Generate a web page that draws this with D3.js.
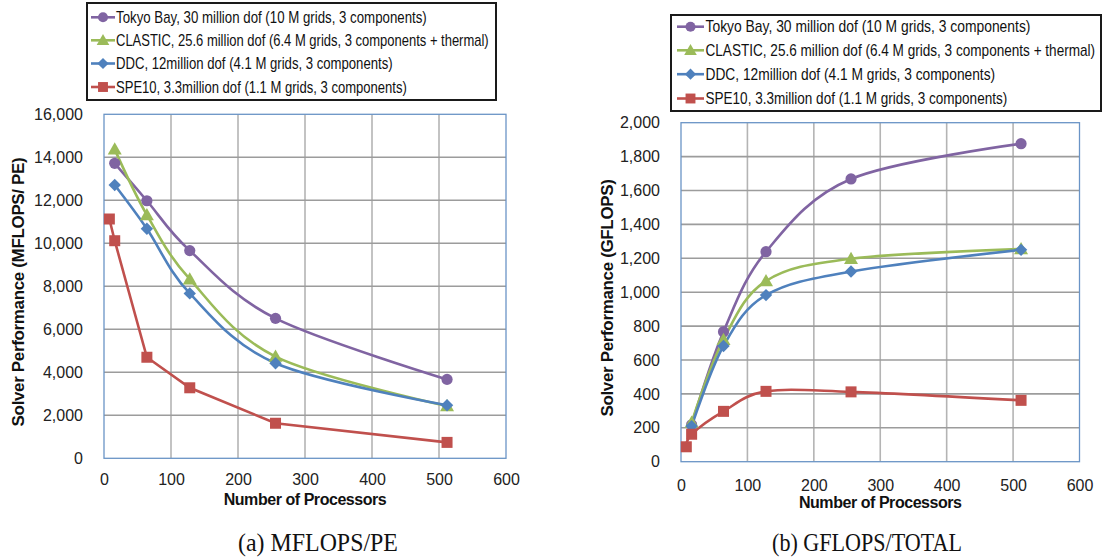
<!DOCTYPE html>
<html><head><meta charset="utf-8">
<script src="https://cdn.jsdelivr.net/npm/d3@7"></script>
<style>body{margin:0;background:#fff}svg{display:block}</style>
</head><body><svg id="c" width="1111" height="558" font-family="Liberation Sans, Arial, sans-serif"></svg>
<script>
const seriesNames = [
  "Tokyo Bay, 30 million dof (10 M grids, 3 components)",
  "CLASTIC, 25.6 million dof (6.4 M grids, 3 components + thermal)",
  "DDC, 12million dof (4.1 M grids, 3 components)",
  "SPE10, 3.3million dof (1.1 M grids, 3 components)"
];
const seriesColors = ["#8064A2", "#9BBB59", "#4F81BD", "#C0504D"];
const seriesMarkers = ["circle", "triangle", "diamond", "square"];
const procs = [16, 64, 128, 256, 512];
const procsSPE10 = [8, 16, 64, 128, 256, 512];
// (a) MFLOPS/PE
const mflopsTokyo = [13720, 11980, 9660, 6510, 3670];
const mflopsClastic = [14370, 11320, 8330, 4730, 2430];
const mflopsDDC = [12710, 10680, 7670, 4420, 2470];
const mflopsSPE10 = [11130, 10120, 4700, 3280, 1630, 740];
// (b) GFLOPS/TOTAL
const gflopsTokyo = [218, 767, 1239, 1668, 1876];
const gflopsClastic = [232, 720, 1066, 1197, 1255];
const gflopsDDC = [210, 683, 983, 1122, 1250];
const gflopsSPE10 = [88, 162, 297, 415, 412, 362];
const xTicks = [0, 100, 200, 300, 400, 500, 600];
const yTicksA = [0, 2000, 4000, 6000, 8000, 10000, 12000, 14000, 16000];
const yTicksB = [0, 200, 400, 600, 800, 1000, 1200, 1400, 1600, 1800, 2000];

const svg = d3.select("#c");
const fmt = d3.format(",");

// place a text so that it spans exactly `w` pixels, by horizontal scaling
function fitText(sel, x, y, w, anchor) {
  const nat = sel.node().getComputedTextLength();
  const sx = Math.min(1.2, w / nat);
  sel.attr("text-anchor", anchor).attr("transform", `translate(${x},${y}) scale(${sx},1)`);
}

function panel(o) {
  const g = svg.append("g");
  const x = d3.scaleLinear().domain([0, 600]).range([o.left, o.right]);
  const y = d3.scaleLinear().domain([0, o.ymax]).range([o.bottom, o.top]);
  g.append("g").selectAll("line").data(xTicks.slice(1, -1)).join("line")
    .attr("x1", d => x(d)).attr("x2", d => x(d)).attr("y1", o.top).attr("y2", o.bottom)
    .attr("stroke", "#b4b4b4").attr("stroke-width", 1.6);
  g.append("g").selectAll("line").data(o.yTicks.slice(1, -1)).join("line")
    .attr("y1", d => y(d)).attr("y2", d => y(d)).attr("x1", o.left).attr("x2", o.right)
    .attr("stroke", "#9c9c9c").attr("stroke-width", 1.6);
  g.append("rect").attr("x", o.left).attr("y", o.top).attr("width", o.right - o.left).attr("height", o.bottom - o.top)
    .attr("fill", "none").attr("stroke", "#6a94c6").attr("stroke-width", 1.3);
  const ax = g.append("g").attr("transform", `translate(0,${o.bottom})`)
    .call(d3.axisBottom(x).tickValues(xTicks).tickSize(0).tickPadding(o.xPad));
  ax.select(".domain").remove();
  ax.selectAll("text").attr("font-size", 16).attr("fill", "#222").attr("font-family", "Liberation Sans");
  const ay = g.append("g").attr("transform", `translate(${o.left},0)`)
    .call(d3.axisLeft(y).tickValues(o.yTicks).tickFormat(fmt).tickSize(0).tickPadding(21));
  ay.select(".domain").remove();
  ay.selectAll("text").attr("font-size", 16).attr("fill", "#222").attr("font-family", "Liberation Sans");
  g.append("text").attr("x", (o.left + o.right) / 2).attr("y", o.xTitleY).attr("text-anchor", "middle")
    .attr("font-size", 16).attr("font-weight", "bold").attr("letter-spacing", -0.45).attr("fill", "#111")
    .text("Number of Processors");
  g.append("text").attr("transform", `translate(${o.yTitleX},${o.yTitleY}) rotate(-90)`).attr("text-anchor", "middle")
    .attr("font-size", 17).attr("font-weight", "bold").attr("letter-spacing", -0.35).attr("fill", "#111")
    .text(o.yTitle);
  const cap = g.append("text")
    .attr("font-family", "Liberation Serif, Times New Roman, serif").attr("font-size", 25).attr("fill", "#111")
    .text(o.caption);
  fitText(cap, o.capX, 551, o.capW, "middle");
  o.series.forEach((s, i) => {
    const pts = s.xs.map((d, k) => [x(d), y(s.ys[k])]);
    const line = d3.line().curve(s.smooth ? d3.curveCatmullRom.alpha(0) : d3.curveLinear);
    g.append("path").attr("d", line(pts)).attr("fill", "none").attr("stroke", seriesColors[i]).attr("stroke-width", 2.6);
  });
  o.series.forEach((s, i) => {
    s.xs.forEach((d, k) => drawMarker(g, seriesMarkers[i], x(d), y(s.ys[k]), seriesColors[i], 1));
  });
  const L = o.legend;
  g.append("rect").attr("x", L.x).attr("y", L.y).attr("width", L.w).attr("height", L.h)
    .attr("fill", "#fff").attr("stroke", "#1a1a1a").attr("stroke-width", 2);
  seriesNames.forEach((n, i) => {
    const cy = L.rows[i];
    g.append("line").attr("x1", L.lx1).attr("x2", L.lx2).attr("y1", cy).attr("y2", cy)
      .attr("stroke", seriesColors[i]).attr("stroke-width", 2.6);
    drawMarker(g, seriesMarkers[i], (L.lx1 + L.lx2) / 2, cy, seriesColors[i], 0.9);
    const t = g.append("text").attr("dy", "0.36em").attr("font-size", L.fs).attr("fill", "#111").text(n);
    fitText(t, L.tx, cy, L.widths[i], "start");
  });
}

function drawMarker(g, type, cx, cy, color, sc) {
  if (type === "circle") {
    g.append("circle").attr("cx", cx).attr("cy", cy).attr("r", 5.6 * sc).attr("fill", color);
  } else if (type === "square") {
    const s = 11 * sc;
    g.append("rect").attr("x", cx - s / 2).attr("y", cy - s / 2).attr("width", s).attr("height", s).attr("fill", color);
  } else if (type === "triangle") {
    const s = 7 * sc;
    g.append("path").attr("d", `M${cx},${cy - s}L${cx + s},${cy + s * 0.75}L${cx - s},${cy + s * 0.75}Z`).attr("fill", color);
  } else {
    const s = 6.2 * sc;
    g.append("path").attr("d", `M${cx},${cy - s}L${cx + s},${cy}L${cx},${cy + s}L${cx - s},${cy}Z`).attr("fill", color);
  }
}

panel({
  left: 104, right: 506, top: 114.3, bottom: 458.3, ymax: 16000, yTicks: yTicksA, xPad: 15,
  xTitleY: 505, yTitleX: 24, yTitleY: 292, yTitle: "Solver Performance (MFLOPS/ PE)",
  caption: "(a) MFLOPS/PE", capX: 318, capW: 160,
  series: [
    { xs: procs, ys: mflopsTokyo, smooth: true },
    { xs: procs, ys: mflopsClastic, smooth: true },
    { xs: procs, ys: mflopsDDC, smooth: true },
    { xs: procsSPE10, ys: mflopsSPE10, smooth: false }
  ],
  legend: { x: 87, y: 3, w: 409, h: 97, rows: [17.3, 40.3, 63.5, 87], lx1: 91, lx2: 115, tx: 116, fs: 16,
            widths: [311, 373, 277, 291] }
});
panel({
  left: 681, right: 1079.5, top: 122.7, bottom: 461.7, ymax: 2000, yTicks: yTicksB, xPad: 18,
  xTitleY: 508, yTitleX: 613, yTitleY: 298, yTitle: "Solver Performance (GFLOPS)",
  caption: "(b) GFLOPS/TOTAL", capX: 867, capW: 190,
  series: [
    { xs: procs, ys: gflopsTokyo, smooth: true },
    { xs: procs, ys: gflopsClastic, smooth: true },
    { xs: procs, ys: gflopsDDC, smooth: true },
    { xs: procsSPE10, ys: gflopsSPE10, smooth: true }
  ],
  legend: { x: 671, y: 15, w: 430, h: 96, rows: [26.7, 50.3, 74.2, 98.5], lx1: 677, lx2: 704, tx: 705.5, fs: 16,
            widths: [325, 390, 290, 302] }
});
</script></body></html>
